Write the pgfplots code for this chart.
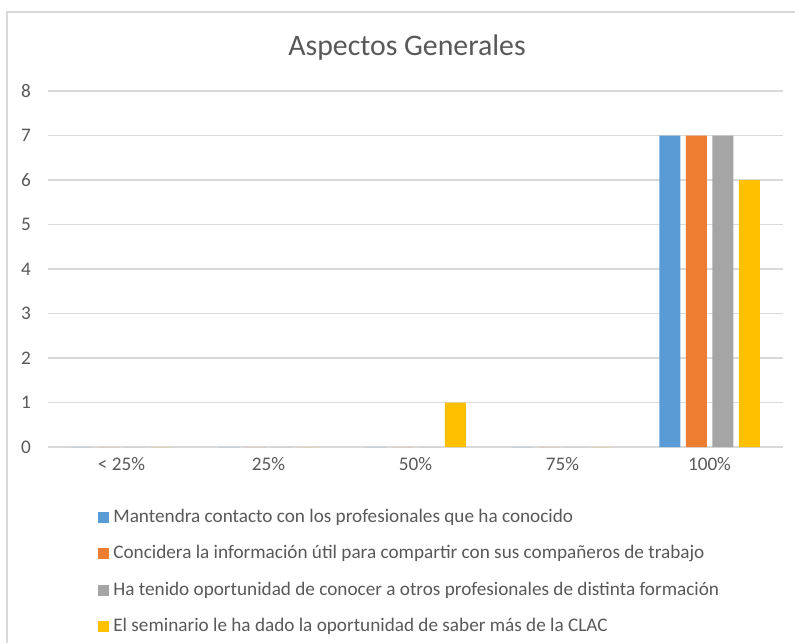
\documentclass[border=0pt]{standalone}
\usepackage{fontspec}
\setmainfont{Carlito}
\usepackage{pgfplots}
\pgfplotsset{compat=1.18}
\definecolor{cblue}{HTML}{5B9BD5}
\definecolor{corange}{HTML}{ED7D31}
\definecolor{cgray}{HTML}{A5A5A5}
\definecolor{cyellow}{HTML}{FFC000}
\definecolor{cgrid}{HTML}{D9D9D9}
\definecolor{ctext}{HTML}{595959}
\begin{document}
\begin{tikzpicture}
\useasboundingbox (0,0) rectangle (397.5pt,321.5pt);
\fill[white] (0,0) rectangle (397.5pt,321.5pt);
\draw[cgrid, line width=0.6pt] (3.5pt,0) -- (3.5pt,315.5pt) -- (397.5pt,315.5pt);
\node[text=ctext, font=\fontsize{14.9}{17}\selectfont] at (203.5pt,297.5pt) {Aspectos Generales};
\begin{axis}[
  at={(24pt,98pt)}, anchor=south west,
  scale only axis, width=367.5pt, height=178pt,
  ybar=2.75pt, bar width=10.5pt,
  xmin=-0.5, xmax=4.5, ymin=0, ymax=8,
  xtick={0,1,2,3,4},
  xticklabels={{< 25\%},{25\%},{50\%},{75\%},{100\%}},
  ytick={0,1,...,8},
  yticklabel={\pgfmathprintnumber{\tick}\hspace*{5pt}},
  major tick length=0pt,
  axis x line*=bottom, axis y line*=left,
  x axis line style={cgrid, line width=0.9pt, -},
  y axis line style={draw=none},
  ymajorgrids, grid style={cgrid, line width=0.6pt},
  tick label style={text=ctext, font=\fontsize{9.6}{11}\selectfont},
  xticklabel style={yshift=-1.5pt},
  yticklabel style={anchor=east},
  /pgf/number format/assume math mode=true,
  legend style={at={(0.068,-0.1812)}, anchor=north west, draw=none, fill=none,
    inner sep=0pt, row sep=11.6pt, column sep=2pt,
    font=\fontsize{9.6}{11}\selectfont, text=ctext,
    nodes={inner sep=0pt}},
  legend cell align=left,
  legend image code/.code={\path (0pt,0pt); \fill (0pt,0.4pt) rectangle (5.5pt,5.9pt);},
  clip=false,
]
\addplot[fill=cblue, draw=none] coordinates {(0,0) (1,0) (2,0) (3,0) (4,7)};
\addplot[fill=corange, draw=none] coordinates {(0,0) (1,0) (2,0) (3,0) (4,7)};
\addplot[fill=cgray, draw=none] coordinates {(0,0) (1,0) (2,0) (3,0) (4,7)};
\addplot[fill=cyellow, draw=none] coordinates {(0,0) (1,0) (2,1) (3,0) (4,6)};
\legend{\smash{Mantendra contacto con los profesionales que ha conocido},
\smash{Concidera la información útil para compartir con sus compañeros de trabajo},
\smash{Ha tenido oportunidad de conocer a otros profesionales de distinta formación},
\smash{El seminario le ha dado la oportunidad de saber más de la CLAC}}
\end{axis}
\end{tikzpicture}
\end{document}
